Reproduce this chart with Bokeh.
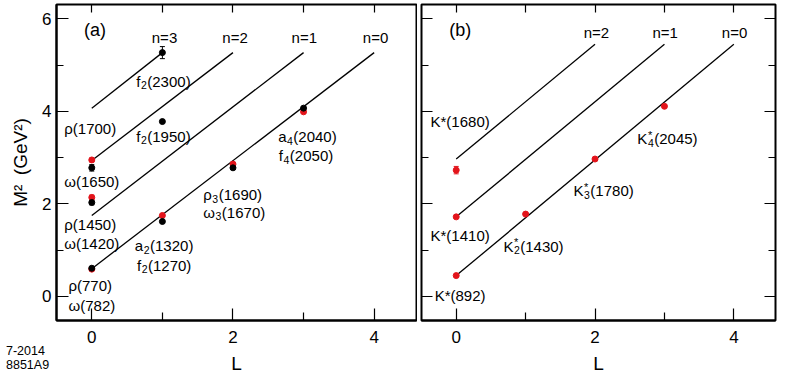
from bokeh.plotting import figure
from bokeh.layouts import row, column
from bokeh.models import (ColumnDataSource, FixedTicker, LinearAxis, Range1d,
                          Whisker, TeeHead, CustomLabelingPolicy, Div)
from bokeh.core.properties import value
from bokeh.embed import file_html
from bokeh.resources import INLINE

FONT = "Liberation Sans"
RED = "#e3141b"

# ---------------- data : panel (a) rho / omega family ----------------
a_red_L = [0, 0, 0, 1, 2, 3]
a_red_M2 = [0.59, 2.14, 2.95, 1.75, 2.86, 3.99]
a_red_err = [0.0, 0.05, 0.04, 0.0, 0.0, 0.0]
a_blk_L = [0, 0, 0, 1, 1, 1, 2, 3]
a_blk_M2 = [0.61, 2.03, 2.78, 1.62, 3.78, 5.27, 2.78, 4.07]
a_blk_err = [0.0, 0.05, 0.07, 0.0, 0.0, 0.13, 0.0, 0.0]
a_traj_name = ["n=0", "n=1", "n=2", "n=3"]
a_traj_L0 = [0, 0, 0, 0]
a_traj_M0 = [0.60, 1.75, 2.94, 4.07]
a_traj_L1 = [4, 3, 2, 1]
a_traj_M1 = [5.27, 5.27, 5.27, 5.27]

# ---------------- data : panel (b) K* family ----------------
b_red_L = [0, 0, 0, 1, 2, 3]
b_red_M2 = [0.45, 1.72, 2.73, 1.78, 2.97, 4.11]
b_red_err = [0.0, 0.0, 0.08, 0.0, 0.0, 0.0]
b_traj_name = ["n=0", "n=1", "n=2"]
b_traj_L0 = [0, 0, 0]
b_traj_M0 = [0.45, 1.72, 2.97]
b_traj_L1 = [4, 3, 2]
b_traj_M1 = [5.45, 5.45, 5.45]

x_major = [0, 2, 4]
x_minor = [1, 3]
x_top = [0, 1, 2, 3, 4]
y_major = [0, 2, 4, 6]
y_minor = [1, 3, 5]

# label layout (position in data units, main text, subscript, superscript, rest)
a_labels = [
    (-0.39, 3.62, "ρ(1700)", None, None, ""),
    (-0.39, 2.49, "ω(1650)", None, None, ""),
    (-0.39, 1.55, "ρ(1450)", None, None, ""),
    (-0.39, 1.15, "ω(1420)", None, None, ""),
    (-0.33, 0.23, "ρ(770)", None, None, ""),
    (-0.33, -0.19, "ω(782)", None, None, ""),
    (0.63, 4.65, "f", "2", None, "(2300)"),
    (0.63, 3.46, "f", "2", None, "(1950)"),
    (0.61, 1.10, "a", "2", None, "(1320)"),
    (0.64, 0.67, "f", "2", None, "(1270)"),
    (1.58, 2.20, "ρ", "3", None, "(1690)"),
    (1.58, 1.82, "ω", "3", None, "(1670)"),
    (2.64, 3.45, "a", "4", None, "(2040)"),
    (2.65, 3.04, "f", "4", None, "(2050)"),
]
a_n_x = [4.02, 3.01, 2.03, 1.03]
a_n_y = [5.59, 5.59, 5.59, 5.59]

b_labels = [
    (-0.37, 3.78, "K*(1680)", None, None, ""),
    (-0.37, 1.31, "K*(1410)", None, None, ""),
    (-0.31, 0.02, "K*(892)", None, None, ""),
    (0.68, 1.08, "K", "2", "*", "(1430)"),
    (1.69, 2.28, "K", "3", "*", "(1780)"),
    (2.61, 3.41, "K", "4", "*", "(2045)"),
]
b_n_x = [4.01, 3.01, 2.02]
b_n_y = [5.71, 5.71, 5.71]

ADV = {"f": 0.278, "a": 0.556, "K": 0.667, "ρ": 0.57, "ω": 0.78}
LBL = 15
SUB = 10.5

NO_LABELS = CustomLabelingPolicy(code="return new Set()")


def text(p, x, y, t, size, xo=0, yo=0, align="left"):
    p.text(x=[x], y=[y], text=[t], x_offset=xo, y_offset=yo,
           text_font=value(FONT), text_font_size=f"{size}px",
           text_align=align, text_baseline="middle", text_color="black")


def draw_labels(p, labels):
    for (x, y, main, sub, sup, rest) in labels:
        text(p, x, y, main, LBL)
        if sub is None:
            continue
        off = ADV[main] * LBL + 0.5
        text(p, x, y, sub, SUB, xo=off, yo=4)
        if sup:
            text(p, x, y, sup, 11, xo=off, yo=-4)
        off += 0.556 * SUB + 0.5
        text(p, x, y, rest, LBL, xo=off)


def tick_only_axis(ticks, minor, major_in, minor_in):
    ax = LinearAxis(ticker=FixedTicker(ticks=ticks, minor_ticks=minor),
                    major_tick_in=major_in, major_tick_out=0,
                    minor_tick_in=minor_in, minor_tick_out=0,
                    axis_line_color=None,
                    major_label_policy=CustomLabelingPolicy(code="return new Set()"),
                    major_label_text_font_size="1px", major_label_standoff=0,
                    major_tick_line_width=1.2, minor_tick_line_width=1.2)
    if not minor:
        ax.minor_tick_line_color = None
    return ax


def make_panel(width, mbl, mbr, show_ylabels):
    p = figure(width=width, height=376, output_backend="svg", toolbar_location=None,
               x_range=Range1d(-0.5, 4.6), y_range=Range1d(-0.52, 6.31),
               min_border_left=mbl, min_border_right=mbr, min_border_top=1,
               min_border_bottom=55, y_axis_location=None)
    p.grid.visible = False
    p.outline_line_color = "black"
    p.outline_line_width = 2
    p.background_fill_color = "white"
    p.border_fill_color = "white"

    xa = p.xaxis[0]
    xa.ticker = FixedTicker(ticks=x_major, minor_ticks=x_minor)
    xa.major_tick_in = 12
    xa.major_tick_out = 0
    xa.minor_tick_in = 8
    xa.minor_tick_out = 0
    xa.axis_line_width = 2
    xa.major_tick_line_width = 1.2
    xa.minor_tick_line_width = 1.2
    xa.major_label_text_font = FONT
    xa.major_label_text_font_size = "17px"
    xa.major_label_text_color = "black"
    xa.major_label_standoff = 10
    xa.axis_label = "L"
    xa.axis_label_text_font = FONT
    xa.axis_label_text_font_size = "19px"
    xa.axis_label_text_font_style = "normal"
    xa.axis_label_text_color = "black"
    xa.axis_label_standoff = 7

    if show_ylabels:
        ya = LinearAxis(ticker=FixedTicker(ticks=y_major, minor_ticks=y_minor),
                        major_tick_in=12, major_tick_out=0,
                        minor_tick_in=7, minor_tick_out=0, axis_line_width=2,
                        major_tick_line_width=1.2, minor_tick_line_width=1.2,
                        major_label_text_font=FONT,
                        major_label_text_font_size="17px",
                        major_label_text_color="black",
                        major_label_standoff=5,
                        axis_label="M\u00b2\u2002(GeV\u00b2)",
                        axis_label_text_font=FONT,
                        axis_label_text_font_size="19px",
                        axis_label_text_font_style="normal",
                        axis_label_text_color="black",
                        axis_label_standoff=8)
    else:
        ya = tick_only_axis(y_major, y_minor, 11, 7)
    p.add_layout(ya, "left")

    p.add_layout(tick_only_axis(x_top, [], 8, 0), "above")
    return p


def draw_traj(p, L0, M0, L1, M1):
    src = ColumnDataSource(dict(x0=L0, y0=M0, x1=L1, y1=M1))
    p.segment(x0="x0", y0="y0", x1="x1", y1="y1", source=src,
              line_color="black", line_width=1.3)


def draw_points(p, L, M, err, color):
    src = ColumnDataSource(dict(x=L, y=M))
    eL = [l for l, e in zip(L, err) if e > 0]
    eM = [m for m, e in zip(M, err) if e > 0]
    eE = [e for e in err if e > 0]
    if eL:
        esrc = ColumnDataSource(dict(x=eL, lo=[m - e for m, e in zip(eM, eE)],
                                     hi=[m + e for m, e in zip(eM, eE)]))
        p.add_layout(Whisker(source=esrc, base="x", lower="lo", upper="hi",
                             dimension="height", line_color=color, line_width=1,
                             upper_head=TeeHead(size=5, line_color=color),
                             lower_head=TeeHead(size=5, line_color=color)))
    p.scatter(x="x", y="y", source=src, size=6, fill_color=color,
              line_color=color, line_width=1)


# ---------------- panel (a) ----------------
pa = make_panel(417, 56, 1, True)
draw_traj(pa, a_traj_L0, a_traj_M0, a_traj_L1, a_traj_M1)
draw_points(pa, a_red_L, a_red_M2, a_red_err, RED)
draw_points(pa, a_blk_L, a_blk_M2, a_blk_err, "black")
for nx, ny, nm in zip(a_n_x, a_n_y, a_traj_name):
    text(pa, nx, ny, nm, LBL, align="center")
text(pa, -0.11, 5.75, "(a)", 18)
draw_labels(pa, a_labels)

# ---------------- panel (b) ----------------
pb = make_panel(362, 1, 1, False)
pb.add_layout(tick_only_axis(y_major, y_minor, 11, 7), "right")
draw_traj(pb, b_traj_L0, b_traj_M0, b_traj_L1, b_traj_M1)
draw_points(pb, b_red_L, b_red_M2, b_red_err, RED)
for nx, ny, nm in zip(b_n_x, b_n_y, b_traj_name):
    text(pb, nx, ny, nm, LBL, align="center")
text(pb, -0.1, 5.76, "(b)", 18)
draw_labels(pb, b_labels)

footer = Div(text="7-2014<br>8851A9", width=60, height=28,
             margin=(-31, 0, 0, 6),
             styles={"font-family": FONT, "font-size": "12.5px",
                     "line-height": "13.5px", "color": "black"})

layout = column(row(pa, pb, spacing=0), footer, spacing=0)
open("out.html", "w").write(file_html(layout, INLINE))
